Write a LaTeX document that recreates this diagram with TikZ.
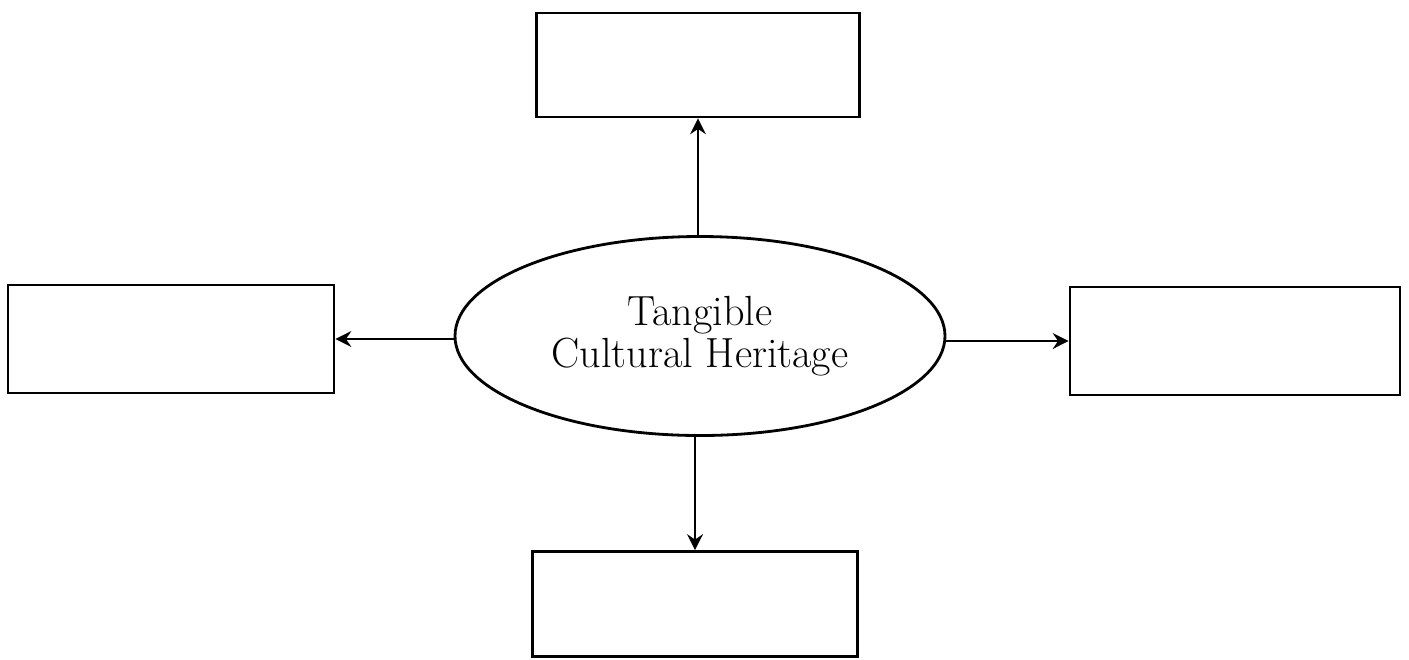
\documentclass[tikz,border=0pt]{standalone}
\usetikzlibrary{shapes.geometric,arrows.meta}
\begin{document}
\begin{tikzpicture}[line width=1.6pt,
  blank/.style={rectangle, draw, minimum width=6.5cm, minimum height=2.12cm},
  arr/.style={-{Stealth[length=9pt,width=9pt,inset=3pt]}}]
\useasboundingbox (0,0) rectangle (28.18,-13.18);

\node [ellipse, draw, minimum width=9.8cm, minimum height=3.98cm, align=center,
  font=\fontsize{24}{24}\selectfont] (heritage) at (14.0,-6.72) {Tangible\\Cultural Heritage};
\node [blank, minimum width=6.46cm, minimum height=2.08cm] (top) at (13.96,-1.3) {};
\node [blank, minimum width=6.52cm, minimum height=2.16cm] (left) at (3.42,-6.78) {};
\node [blank, minimum width=6.6cm, minimum height=2.16cm] (right) at (24.7,-6.82) {};
\node [blank, minimum width=6.5cm, minimum height=2.1cm] (bottom) at (13.9,-12.08) {};
\draw [arr] (heritage.north -| top.south) -- (top.south);
\draw [arr] (heritage.west |- left.east) -- (left.east);
\draw [arr] (heritage.east |- right.west) -- (right.west);
\draw [arr] (heritage.south -| bottom.north) -- (bottom.north);
\end{tikzpicture}
\end{document}
